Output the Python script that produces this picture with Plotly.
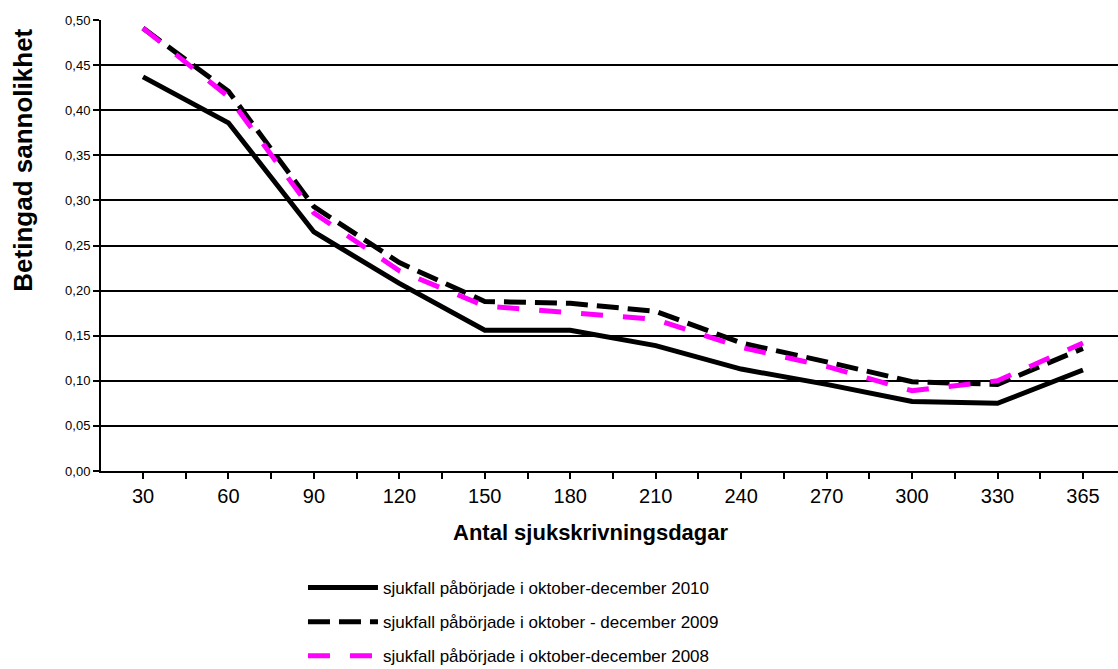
import plotly.graph_objects as go

# Antal sjukskrivningsdagar (kategorier på x-axeln)
dagar = ["30", "60", "90", "120", "150", "180", "210", "240", "270", "300", "330", "365"]

# Betingad sannolikhet per kohort
kohort_2010 = [0.437, 0.386, 0.265, 0.208, 0.156, 0.156, 0.139, 0.113, 0.096, 0.077, 0.075, 0.112]
kohort_2009 = [0.491, 0.421, 0.293, 0.231, 0.188, 0.186, 0.177, 0.142, 0.121, 0.099, 0.096, 0.136]
kohort_2008 = [0.491, 0.415, 0.286, 0.222, 0.183, 0.176, 0.168, 0.137, 0.116, 0.089, 0.100, 0.142]

serier = [
    ("sjukfall påbörjade i oktober-december 2010", kohort_2010, "#000000", "solid"),
    ("sjukfall påbörjade i oktober - december 2009", kohort_2009, "#000000", "22px,9px"),
    ("sjukfall påbörjade i oktober-december 2008", kohort_2008, "#FF00FF", "22px,20px"),
]

FONT = "Arial, Liberation Sans, sans-serif"
pos = list(range(len(dagar)))

fig = go.Figure()
for i, (namn, varden, farg, streck) in enumerate(serier):
    fig.add_trace(go.Scatter(
        x=pos, y=varden, mode="lines", name=namn,
        legendgroup=f"g{i}",
        line=dict(color=farg, width=5, dash=streck),
    ))

# ticks at each category and halfway between; labels only at categories
tick_pos, tick_txt = [], []
for i, d in enumerate(dagar):
    tick_pos += [i - 0.5, i]
    tick_txt += ["", d]

fig.update_layout(
    width=1118, height=669,
    margin=dict(l=101, r=0, t=20, b=198, autoexpand=False),
    paper_bgcolor="white", plot_bgcolor="white",
    font=dict(family=FONT, color="black"),
    separators=",.",
    showlegend=True,
    legend=dict(
        x=0.1986, xanchor="left", y=-0.2195, yanchor="top",
        font=dict(size=17, family=FONT),
        tracegroupgap=9, itemwidth=70,
        bgcolor="rgba(0,0,0,0)",
    ),
    xaxis=dict(
        range=[-0.4915, 11.41],
        tickmode="array", tickvals=tick_pos, ticktext=tick_txt,
        ticks="outside", ticklen=6, tickwidth=2, tickcolor="black",
        showline=True, linecolor="black", linewidth=2,
        showgrid=False, zeroline=False, automargin=False,
        tickfont=dict(size=20, family=FONT),
    ),
    yaxis=dict(
        range=[0, 0.5], dtick=0.05, tick0=0,
        tickformat=".2f",
        ticks="outside", ticklen=6, tickwidth=2, tickcolor="black",
        showline=True, linecolor="black", linewidth=2,
        showgrid=True, gridcolor="black", gridwidth=1.5,
        zeroline=False, automargin=False,
        tickfont=dict(size=13, family=FONT),
    ),
    annotations=[
        dict(
            text="<b>Betingad sannolikhet</b>", textangle=-90,
            xref="paper", yref="paper",
            x=-0.0763, y=0.689, xanchor="center", yanchor="middle",
            showarrow=False, font=dict(size=26, family=FONT),
        ),
        dict(
            text="<b>Antal sjukskrivningsdagar</b>",
            xref="paper", yref="paper",
            x=0.4818, y=-0.1353, xanchor="center", yanchor="middle",
            showarrow=False, font=dict(size=22, family=FONT),
        ),
    ],
)

fig.write_html("out.html")
